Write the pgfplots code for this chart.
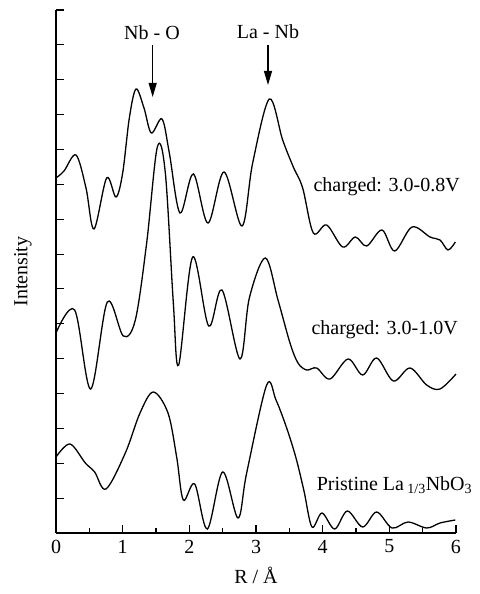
\documentclass[border=0pt]{standalone}
\usepackage{fontspec}
\setmainfont{Liberation Serif}
\usepackage{pgfplots}
\pgfplotsset{compat=1.18}
\usetikzlibrary{arrows.meta}
\begin{document}
\fontsize{20}{23}\selectfont
\begin{tikzpicture}
\begin{axis}[
  name=ax,
  scale only axis, width=400pt, height=523pt,
  xmin=0, xmax=6, ymin=0, ymax=523,
  axis x line*=bottom, axis y line*=left,
  axis line style={line width=1.2pt},
  xtick={0,1,...,6}, minor xtick={0.5,1.5,...,5.5},
  ytick distance=34.8667, yticklabels={},
  tick align=inside,
  major tick length=8pt, minor tick length=5pt,
  tick style={line width=1.1pt, black},
  /pgf/number format/assume math mode=true,
  ticklabel style={font=\fontsize{20}{23}\selectfont},
  xlabel={R / Å}, ylabel={Intensity},
  label style={font=\fontsize{20}{23}\selectfont},
  ylabel style={yshift=4pt},
  clip=false,
]
% charged 3.0-0.8V
\addplot[black, line width=1.3pt, smooth, tension=0.55] coordinates {
(0,355) (0.12,362) (0.3,378) (0.45,345) (0.57,304) (0.76,355) (0.9,336) (1.0,360) (1.1,415) (1.2,444) (1.32,425) (1.43,400) (1.59,414) (1.7,380) (1.86,320) (2.06,359) (2.28,310) (2.52,361) (2.79,307) (2.95,370) (3.2,434) (3.4,393) (3.56,366) (3.7,345) (3.86,300) (4.06,308) (4.3,286) (4.49,296) (4.66,287) (4.89,303) (5.08,282) (5.34,306) (5.61,296) (5.76,293) (5.88,283) (5.99,291)};
% charged 3.0-1.0V
\addplot[black, line width=1.3pt, smooth, tension=0.55] coordinates {
(0,200) (0.28,223) (0.52,144) (0.77,231) (1.01,197) (1.19,213) (1.36,290) (1.52,386) (1.64,360) (1.76,230) (1.84,168) (2.05,276) (2.29,207) (2.49,243) (2.76,174) (2.9,235) (3.14,275) (3.33,233) (3.51,190) (3.63,170) (3.76,163) (3.91,165) (4.11,154) (4.38,174) (4.6,158) (4.81,175) (5.06,152) (5.31,165) (5.56,148) (5.76,144) (6.0,159)};
% pristine
\addplot[black, line width=1.3pt, smooth, tension=0.55] coordinates {
(0,76) (0.21,89) (0.44,70) (0.58,61) (0.75,44) (1.04,80) (1.26,120) (1.46,141) (1.68,120) (1.81,76) (1.91,33) (2.08,49) (2.27,4) (2.5,61) (2.73,15) (2.86,60) (3.16,148) (3.3,133) (3.46,105) (3.6,75) (3.72,42) (3.84,6) (3.99,20) (4.18,4) (4.37,22) (4.6,6) (4.81,21) (5.04,5) (5.28,11) (5.56,5) (5.76,10) (5.99,13)};
\draw[line width=1.1pt, -{Triangle[length=14pt,width=8pt]}] (axis cs:1.45,488) -- (axis cs:1.45,436);
\draw[line width=1.1pt, -{Triangle[length=14pt,width=8pt]}] (axis cs:3.18,488) -- (axis cs:3.18,448);
\node at (axis cs:1.44,500) {Nb - O};
\node at (axis cs:3.18,501) {La - Nb};
\node[anchor=west] at (axis cs:3.76,346) {charged: 3.0-0.8V};
\node[anchor=west] at (axis cs:3.73,203) {charged: 3.0-1.0V};
\node[anchor=west] at (axis cs:3.81,48) {Pristine La\,\textsubscript{1/3}NbO\textsubscript{3}};
\end{axis}
\path ([xshift=-56pt,yshift=-61pt]ax.south west) rectangle ([xshift=24pt,yshift=10pt]ax.north east);
\end{tikzpicture}
\end{document}
